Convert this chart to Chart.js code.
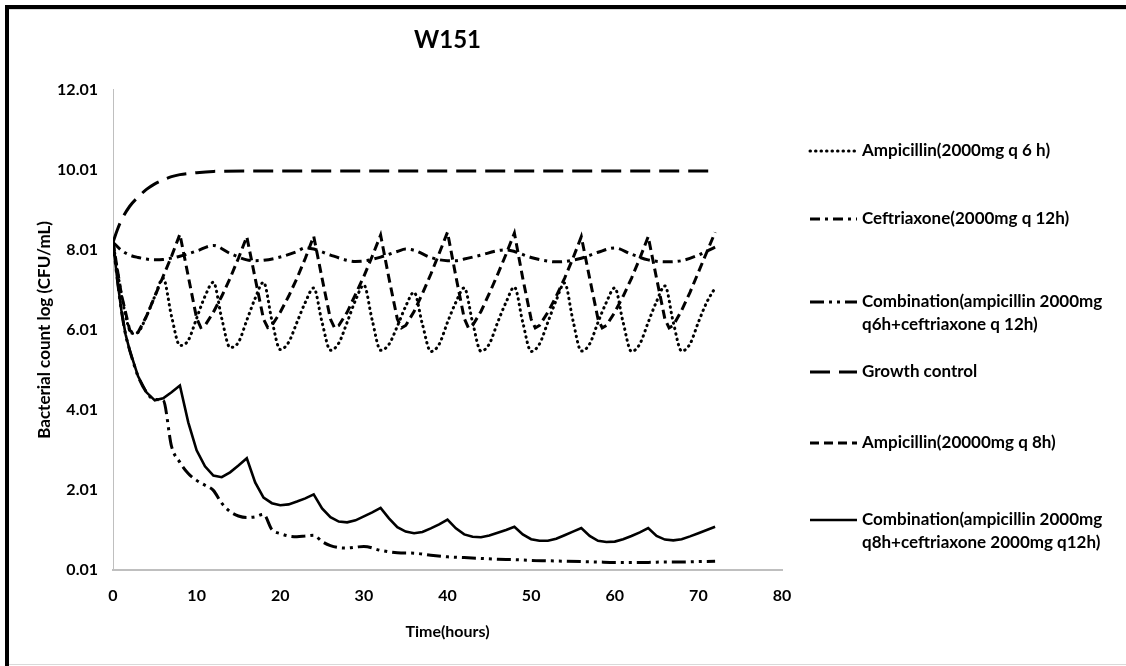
<!DOCTYPE html>
<html>
<head>
<meta charset="utf-8">
<title>W151</title>
<script src="https://cdn.jsdelivr.net/npm/chart.js@4/dist/chart.umd.min.js"></script>
<style>
  html, body { margin: 0; padding: 0; background: #fff; }
  #wrap { width: 1126px; height: 666px; }
</style>
</head>
<body>
<div id="wrap"><canvas id="chart" width="1126" height="666"></canvas></div>
<script>
// hours and log10 CFU/mL for each regimen
var ampQ6Hours = [0,1,2,2.5,3,4,5,6,7,8,9,10,11,12,13,14,15,16,17,18,19,20,21,22,23,24,25,26,27,28,29,30,31,32,33,34,35,36,37,38,39,40,41,42,43,44,45,46,47,48,49,50,51,52,53,54,55,56,57,58,59,60,61,62,63,64,65,66,67,68,69,70,71,72];
var ampQ6Values = [8.2,6.9,6.0,5.92,5.95,6.35,6.85,7.3,
  6.35,5.62,5.75,6.3,6.85,7.2,
  6.3,5.57,5.7,6.25,6.8,7.2,
  6.25,5.52,5.7,6.2,6.7,7.06,
  6.2,5.5,5.68,6.2,6.75,7.13,
  6.25,5.5,5.65,6.1,6.6,6.95,
  6.15,5.47,5.65,6.2,6.7,7.06,
  6.2,5.48,5.66,6.2,6.7,7.08,
  6.2,5.47,5.66,6.2,6.75,7.18,
  6.25,5.48,5.66,6.2,6.7,7.06,
  6.2,5.47,5.66,6.2,6.72,7.11,
  6.2,5.48,5.66,6.2,6.7,7.06];

var ceftHours = [0,1,2,3,4,5,6,8,10,12,14,16,17,18,20,22,23,24,26,28,29,30,32,34,35,36,38,40,41,42,44,46,47,48,50,52,53,54,56,58,60,62,64,66,68,70,72];
var ceftValues = [8.2,8.0,7.88,7.82,7.78,7.76,7.77,7.85,7.98,8.12,7.92,7.76,7.74,7.75,7.83,7.97,8.06,8.03,7.88,7.75,7.72,7.73,7.83,7.97,8.03,8.0,7.82,7.74,7.74,7.78,7.88,7.99,8.01,7.97,7.82,7.73,7.71,7.72,7.8,7.95,8.06,7.9,7.76,7.71,7.74,7.88,8.08];

var comboQ6Hours = [0,0.5,1,1.5,2,3,4,5,6,7,8,9,10,11,12,13,14,15,16,17,18,19,20,21,22,23,24,25,26,27,28,29,30,32,34,36,38,40,42,44,46,48,50,52,54,56,58,60,62,64,66,68,70,72];
var comboQ6Values = [8.2,7.3,6.5,5.9,5.5,4.85,4.45,4.27,4.25,3.1,2.7,2.42,2.25,2.13,2.0,1.68,1.47,1.36,1.32,1.34,1.4,1.02,0.92,0.86,0.84,0.86,0.88,0.72,0.62,0.57,0.56,0.58,0.6,0.5,0.44,0.43,0.38,0.34,0.32,0.3,0.28,0.27,0.25,0.24,0.23,0.22,0.21,0.2,0.2,0.2,0.21,0.21,0.22,0.23];

var growthHours = [0,0.5,1,2,3,4,5,6,7,8,10,12,16,24,32,40,48,56,64,72];
var growthValues = [8.2,8.5,8.75,9.1,9.33,9.52,9.66,9.76,9.84,9.89,9.94,9.97,9.98,9.98,9.98,9.98,9.98,9.98,9.98,9.98];

var ampQ8Hours = [0,1,2,2.5,3,4,5,6,7,8,
  9,10,10.5,11,12,13,14,15,16,
  17,18,18.5,19,20,21,22,23,24,
  25,26,26.5,27,28,29,30,31,32,
  33,34,34.5,35,36,37,38,39,40,
  41,42,42.5,43,44,45,46,47,48,
  49,50,50.5,51,52,53,54,55,56,
  57,58,58.5,59,60,61,62,63,64,
  65,66,66.5,67,68,69,70,71,72];
var ampQ8Values = [8.2,6.9,6.0,5.92,5.95,6.35,6.85,7.35,7.85,8.4,
  7.35,6.3,6.07,6.12,6.45,6.85,7.3,7.8,8.34,
  7.3,6.28,6.07,6.12,6.45,6.85,7.3,7.8,8.35,
  7.3,6.28,6.06,6.12,6.45,6.9,7.35,7.85,8.38,
  7.3,6.28,6.06,6.12,6.47,6.92,7.4,7.92,8.45,
  7.35,6.3,6.06,6.12,6.47,6.92,7.4,7.9,8.43,
  7.3,6.28,6.06,6.12,6.45,6.85,7.3,7.8,8.34,
  7.3,6.28,6.06,6.12,6.45,6.85,7.3,7.8,8.34,
  7.3,6.28,6.06,6.12,6.5,6.95,7.45,7.95,8.45];

var comboQ8Hours = [0,0.5,1,1.5,2,3,4,5,6,7,8,9,10,11,12,13,14,15,16,17,18,19,20,21,22,23,24,25,26,27,28,29,30,31,32,33,34,35,36,37,38,39,40,41,42,43,44,45,46,47,48,49,50,51,52,53,54,55,56,57,58,59,60,61,62,63,64,65,66,67,68,69,70,71,72];
var comboQ8Values = [8.2,7.3,6.5,5.9,5.5,4.85,4.45,4.25,4.3,4.45,4.62,
  3.7,3.0,2.6,2.37,2.33,2.45,2.62,2.8,
  2.2,1.82,1.68,1.63,1.65,1.72,1.8,1.9,
  1.55,1.33,1.22,1.2,1.25,1.35,1.45,1.56,
  1.3,1.08,0.97,0.93,0.96,1.05,1.15,1.27,
  1.05,0.9,0.84,0.83,0.87,0.94,1.01,1.09,
  0.9,0.78,0.74,0.74,0.79,0.88,0.97,1.06,
  0.86,0.74,0.71,0.72,0.78,0.86,0.95,1.06,
  0.86,0.77,0.75,0.78,0.85,0.93,1.01,1.09];

var seriesNames = [
  ['Ampicillin(2000mg q 6 h)'],
  ['Ceftriaxone(2000mg q 12h)'],
  ['Combination(ampicillin 2000mg', 'q6h+ceftriaxone q 12h)'],
  ['Growth control'],
  ['Ampicillin(20000mg q 8h)'],
  ['Combination(ampicillin 2000mg', 'q8h+ceftriaxone 2000mg q12h)']
];

var xTickValues = [0, 10, 20, 30, 40, 50, 60, 70, 80];
var yTickValues = [0.01, 2.01, 4.01, 6.01, 8.01, 10.01, 12.01];

var FONT = 'Lato';

function pairs(xs, ys) {
  return xs.map(function(x, i) { return { x: x, y: ys[i] }; });
}

function series(i, xs, ys, style) {
  var ds = {
    label: seriesNames[i].join(' '),
    data: pairs(xs, ys),
    borderColor: '#000000',
    backgroundColor: '#000000',
    borderWidth: 3,
    pointRadius: 0,
    fill: false
  };
  for (var k in style) ds[k] = style[k];
  return ds;
}

// white page with the black frame on top and left
var frame = {
  id: 'frame',
  beforeDraw: function(chart) {
    var ctx = chart.ctx;
    ctx.save();
    ctx.fillStyle = '#ffffff';
    ctx.fillRect(0, 0, chart.width, chart.height);
    ctx.fillStyle = '#000000';
    ctx.fillRect(5, 5, chart.width - 5, 4);
    ctx.fillRect(5, 5, 4, chart.height - 5);
    ctx.fillStyle = '#d9d9d9';
    ctx.fillRect(9, 9, chart.width - 9, 1);
    ctx.fillRect(9, chart.height - 2, chart.width - 9, 1);
    ctx.restore();
  }
};

// legend stacked down the right side
var sideLegend = {
  id: 'sideLegend',
  afterDraw: function(chart, args, opts) {
    var ctx = chart.ctx;
    chart.data.datasets.forEach(function(ds, i) {
      var y = opts.rows[i];
      ctx.save();
      ctx.strokeStyle = '#000000';
      ctx.lineWidth = ds.borderWidth;
      ctx.lineCap = ds.borderCapStyle || 'butt';
      ctx.setLineDash(ds.borderDash || []);
      ctx.beginPath();
      ctx.moveTo(opts.lineStart, y);
      ctx.lineTo(opts.lineEnd, y);
      ctx.stroke();
      ctx.setLineDash([]);
      ctx.fillStyle = '#000000';
      ctx.font = 'bold ' + opts.fontSize + 'px ' + FONT;
      ctx.textBaseline = 'middle';
      seriesNames[i].forEach(function(t, j) {
        ctx.fillText(t, opts.textX, y + j * opts.lineGap);
      });
      ctx.restore();
    });
  }
};

var datasets = [
  series(0, ampQ6Hours, ampQ6Values, { borderDash: [0.5, 5], borderCapStyle: 'round', borderWidth: 3, cubicInterpolationMode: 'monotone' }),
  series(1, ceftHours, ceftValues, { borderDash: [10, 5, 3, 5], cubicInterpolationMode: 'monotone' }),
  series(2, comboQ6Hours, comboQ6Values, { borderDash: [14, 5, 3, 5, 3, 5], cubicInterpolationMode: 'monotone' }),
  series(3, growthHours, growthValues, { borderDash: [20, 9], cubicInterpolationMode: 'monotone' }),
  series(4, ampQ8Hours, ampQ8Values, { borderDash: [9, 5], tension: 0 }),
  series(5, comboQ8Hours, comboQ8Values, { tension: 0, borderWidth: 2.6 })
];

var ctx = document.getElementById('chart').getContext('2d');
var chart = new Chart(ctx, {
  type: 'line',
  data: { datasets: datasets },
  options: {
    responsive: false,
    animation: false,
    layout: { padding: { top: 26, left: 30, right: 344, bottom: 18 } },
    plugins: {
      legend: { display: false },
      tooltip: { enabled: false },
      title: {
        display: true,
        text: 'W151',
        fullSize: false,
        color: '#000000',
        font: { family: FONT, size: 24, weight: 'bold' },
        padding: { top: 0, bottom: 35 }
      },
      sideLegend: { rows: [151, 219, 302, 372, 443, 520], lineStart: 810, lineEnd: 857, textX: 862, lineGap: 23, fontSize: 17 }
    },
    scales: {
      x: {
        type: 'linear',
        min: 0,
        max: 80,
        afterBuildTicks: function(scale) {
          scale.ticks = xTickValues.map(function(v) { return { value: v }; });
        },
        afterFit: function(scale) { scale.height = 78; },
        grid: { drawOnChartArea: false, drawTicks: false },
        border: { display: true, color: '#bfbfbf', width: 2 },
        ticks: {
          color: '#000000',
          padding: 16,
          maxRotation: 0,
          font: { family: FONT, size: 16, weight: 'bold' }
        },
        title: {
          display: true,
          text: 'Time(hours)',
          color: '#000000',
          font: { family: FONT, size: 16, weight: 'bold' },
          padding: { top: 0, bottom: 7 }
        }
      },
      y: {
        type: 'linear',
        min: 0.01,
        max: 12.01,
        afterBuildTicks: function(scale) {
          scale.ticks = yTickValues.map(function(v) { return { value: v }; });
        },
        afterFit: function(scale) { scale.width = 83; },
        grid: { drawOnChartArea: false, drawTicks: false },
        border: { display: true, color: '#bfbfbf', width: 1 },
        ticks: {
          color: '#000000',
          padding: 15,
          font: { family: FONT, size: 16, weight: 'bold' },
          callback: function(v) { return Number(v).toFixed(2); }
        },
        title: {
          display: true,
          text: 'Bacterial count log (CFU/mL)',
          color: '#000000',
          font: { family: FONT, size: 17, weight: 'bold' },
          padding: { top: 4, bottom: 0 }
        }
      }
    }
  },
  plugins: [frame, sideLegend]
});
</script>
</body>
</html>
